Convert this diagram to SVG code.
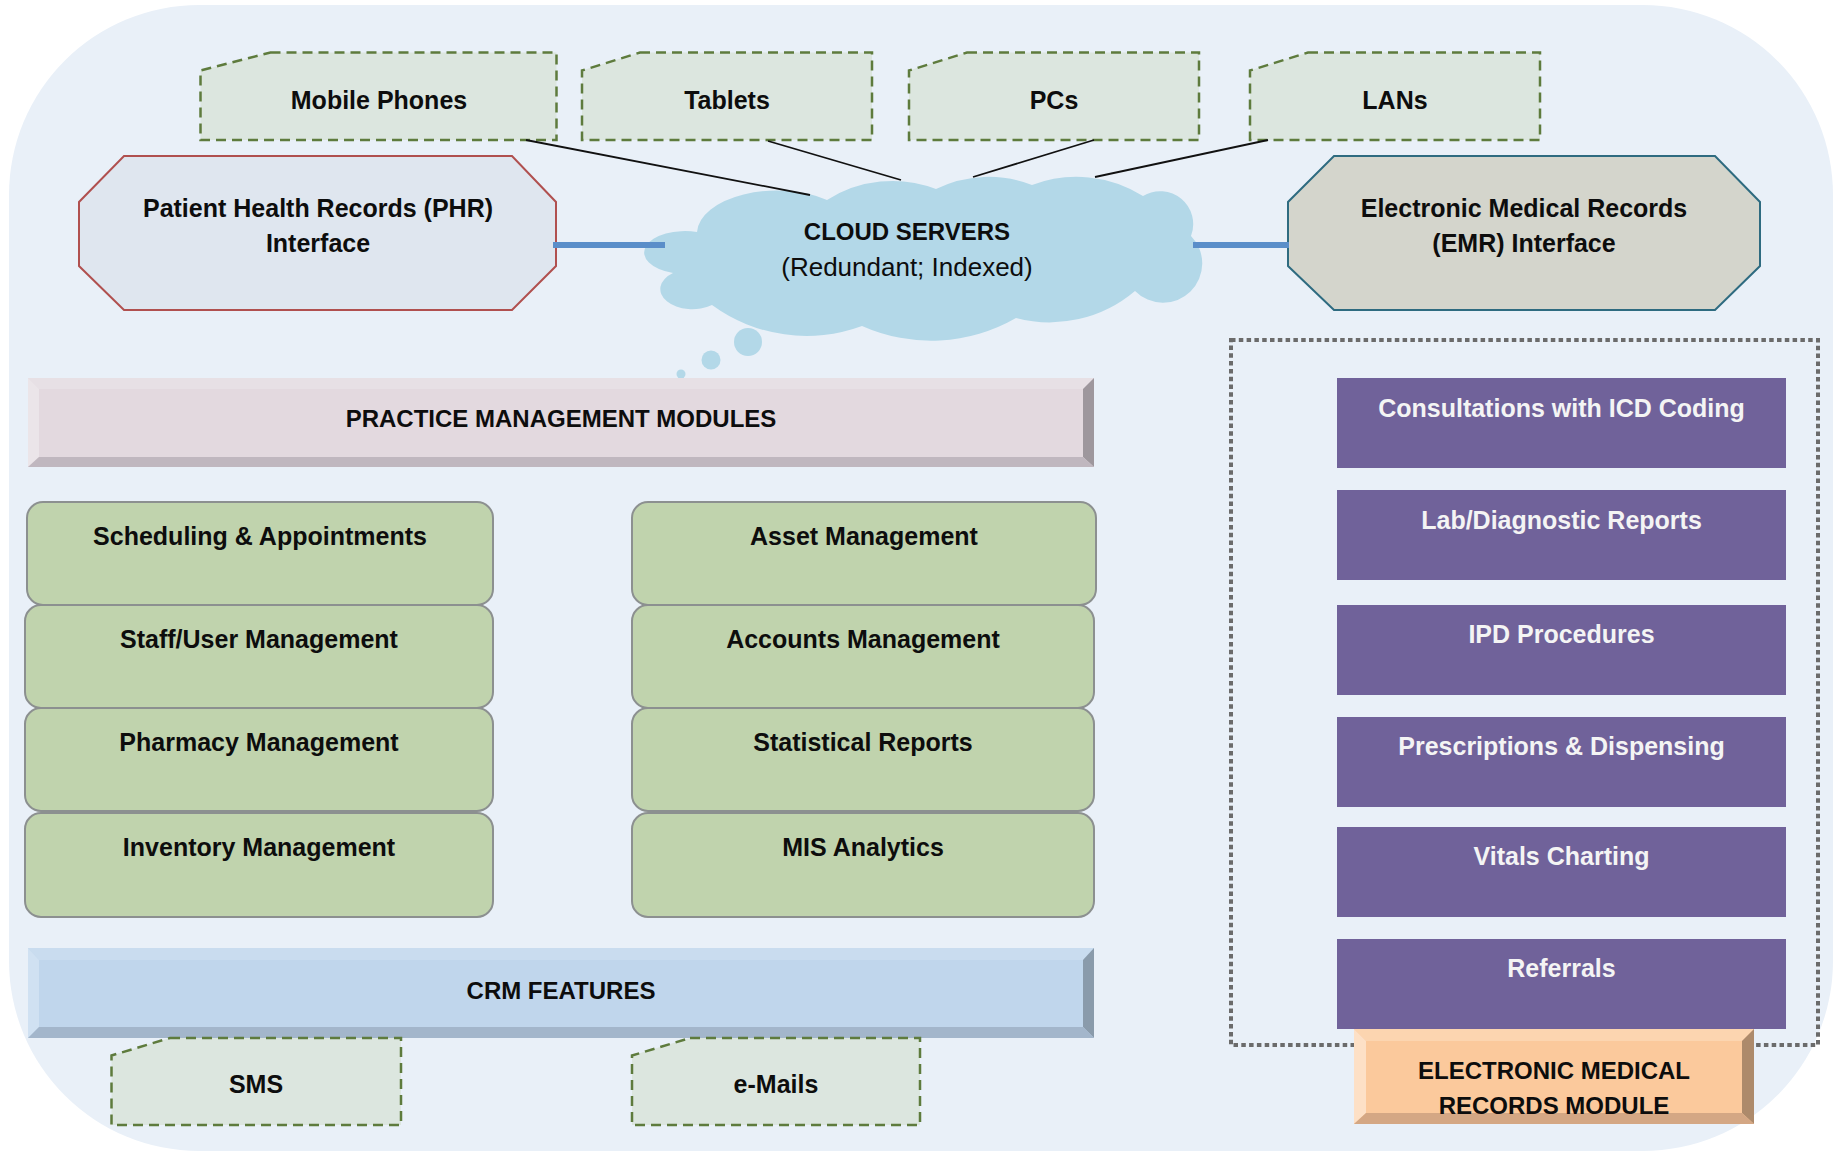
<svg xmlns="http://www.w3.org/2000/svg" width="1839" height="1153" viewBox="0 0 1839 1153">
<style>
text{font-family:"Liberation Sans",Arial,sans-serif;fill:#0d0d0d;text-anchor:middle}
.b25{font-size:25px;font-weight:bold}
.b24{font-size:24px;font-weight:bold}
.r26{font-size:26px}
.w{fill:#f4f4f4}
.dev{fill:#dce6df;stroke:#5e7b3d;stroke-width:2.5;stroke-dasharray:10 6}
.grn{fill:#c0d3ad;stroke:#8c9090;stroke-width:2}
.pur{fill:#70629a}
.thin{stroke:#111;stroke-width:1.8;fill:none}
.thick{stroke:#5a8ec9;stroke-width:6;fill:none}
.cloud{fill:#b3d8e8}
</style>
<rect x="0" y="0" width="1839" height="1153" fill="#ffffff"/>
<rect x="9" y="5" width="1824" height="1146" rx="190" ry="190" fill="#e9f0f8"/>

<g id="cloud-servers">
<path class="cloud" d="M697,232 A80,43 0 0 1 827,200 A122,122 0 0 1 936,189 A120,120 0 0 1 1032,185 A125,125 0 0 1 1143,196 A33,33 0 0 1 1191,236 A36,36 0 0 1 1135,291 A132,132 0 0 1 1016,318 A170,170 0 0 1 862,326 A160,160 0 0 1 712,305 A32,20 0 1 1 673,273 A40,21 0 0 1 697,232 Z"/>
<circle class="cloud" cx="748" cy="342" r="14"/>
<circle class="cloud" cx="711" cy="360" r="9.5"/>
<circle class="cloud" cx="681" cy="374" r="4.5"/>
<text class="b24" x="907" y="240">CLOUD SERVERS</text>
<text class="r26" x="907" y="276">(Redundant; Indexed)</text>
</g>

<g id="mobile-phones"><path class="dev" d="M270.5,52.5 L556.5,52.5 L556.5,140 L200.5,140 L200.5,70.5 Z"/><text class="b25" x="379" y="108.5">Mobile Phones</text></g>
<g id="tablets"><path class="dev" d="M640,52.5 L872,52.5 L872,140 L582,140 L582,70.5 Z"/><text class="b25" x="727" y="108.5">Tablets</text></g>
<g id="pcs"><path class="dev" d="M967,52.5 L1199,52.5 L1199,140 L909,140 L909,70.5 Z"/><text class="b25" x="1054" y="108.5">PCs</text></g>
<g id="lans"><path class="dev" d="M1308,52.5 L1540,52.5 L1540,140 L1250,140 L1250,70.5 Z"/><text class="b25" x="1395" y="108.5">LANs</text></g>

<g id="phr-interface">
<polygon points="124,156 512,156 556,202 556,266 512,310 124,310 79,266 79,202" fill="#dfe6ef" stroke="#b0504f" stroke-width="2"/>
<text class="b25" x="318" y="217">Patient Health Records (PHR)</text>
<text class="b25" x="318" y="252">Interface</text>
</g>
<g id="emr-interface">
<polygon points="1334,156 1715,156 1760,202 1760,266 1715,310 1334,310 1288,266 1288,202" fill="#d4d5cc" stroke="#2e6b80" stroke-width="2"/>
<text class="b25" x="1524" y="217">Electronic Medical Records</text>
<text class="b25" x="1524" y="252">(EMR) Interface</text>
</g>

<g id="practice-management-modules">
<rect x="28" y="378" width="1066" height="89" fill="#e3d9df"/>
<polygon points="28,378 1094,378 1083,389 39,389" fill="#e7e0e5"/>
<polygon points="28,378 39,389 39,457 28,467" fill="#ebe5e9"/>
<polygon points="1094,378 1094,467 1083,457 1083,389" fill="#9e979d"/>
<polygon points="28,467 1094,467 1083,457 39,457" fill="#c0b7bf"/>
<text class="b24" x="561" y="427">PRACTICE MANAGEMENT MODULES</text>
</g>

<g id="scheduling"><rect class="grn" x="27" y="502" width="466" height="103" rx="16"/><text class="b25" x="260" y="545">Scheduling &amp; Appointments</text></g>
<g id="staff-user"><rect class="grn" x="25" y="605" width="468" height="103" rx="16"/><text class="b25" x="259" y="648">Staff/User Management</text></g>
<g id="pharmacy"><rect class="grn" x="25" y="708" width="468" height="103" rx="16"/><text class="b25" x="259" y="751">Pharmacy Management</text></g>
<g id="inventory"><rect class="grn" x="25" y="813" width="468" height="104" rx="16"/><text class="b25" x="259" y="856">Inventory Management</text></g>

<g id="asset"><rect class="grn" x="632" y="502" width="464" height="103" rx="16"/><text class="b25" x="864" y="545">Asset Management</text></g>
<g id="accounts"><rect class="grn" x="632" y="605" width="462" height="103" rx="16"/><text class="b25" x="863" y="648">Accounts Management</text></g>
<g id="statistical"><rect class="grn" x="632" y="708" width="462" height="103" rx="16"/><text class="b25" x="863" y="751">Statistical Reports</text></g>
<g id="mis"><rect class="grn" x="632" y="813" width="462" height="104" rx="16"/><text class="b25" x="863" y="856">MIS Analytics</text></g>

<g id="crm-features">
<rect x="28" y="948" width="1066" height="90" fill="#c0d6ec"/>
<polygon points="28,948 1094,948 1083,960 39,960" fill="#c9dcef"/>
<polygon points="28,948 39,960 39,1027 28,1038" fill="#d0e1f2"/>
<polygon points="1094,948 1094,1038 1083,1027 1083,960" fill="#8a9bab"/>
<polygon points="28,1038 1094,1038 1083,1027 39,1027" fill="#a3b6cb"/>
<text class="b24" x="561" y="999">CRM FEATURES</text>
</g>

<g id="sms"><path class="dev" d="M170,1038 L401,1038 L401,1125 L111.5,1125 L111.5,1055.5 Z"/><text class="b25" x="256" y="1093">SMS</text></g>
<g id="emails"><path class="dev" d="M690,1038 L920,1038 L920,1125 L632,1125 L632,1055.5 Z"/><text class="b25" x="776" y="1093">e-Mails</text></g>

<g id="emr-module-container">
<rect x="1231" y="340" width="587" height="705" fill="none" stroke="#6b6b6b" stroke-width="4" stroke-dasharray="4.5 3.3"/>
</g>

<g id="consultations"><rect class="pur" x="1337" y="378" width="449" height="90"/><text class="b25 w" x="1561.5" y="417">Consultations with ICD Coding</text></g>
<g id="lab-reports"><rect class="pur" x="1337" y="490" width="449" height="90"/><text class="b25 w" x="1561.5" y="529">Lab/Diagnostic Reports</text></g>
<g id="ipd"><rect class="pur" x="1337" y="605" width="449" height="90"/><text class="b25 w" x="1561.5" y="643">IPD Procedures</text></g>
<g id="prescriptions"><rect class="pur" x="1337" y="717" width="449" height="90"/><text class="b25 w" x="1561.5" y="755">Prescriptions &amp; Dispensing</text></g>
<g id="vitals"><rect class="pur" x="1337" y="827" width="449" height="90"/><text class="b25 w" x="1561.5" y="865">Vitals Charting</text></g>
<g id="referrals"><rect class="pur" x="1337" y="939" width="449" height="90"/><text class="b25 w" x="1561.5" y="977">Referrals</text></g>

<g id="emr-module">
<rect x="1354" y="1029" width="400" height="95" fill="#fbc99c"/>
<polygon points="1354,1029 1754,1029 1742,1041 1366,1041" fill="#fcd5b0"/>
<polygon points="1354,1029 1366,1041 1366,1113 1354,1124" fill="#fde0c6"/>
<polygon points="1754,1029 1754,1124 1742,1113 1742,1041" fill="#ad8a6b"/>
<polygon points="1354,1124 1754,1124 1742,1113 1366,1113" fill="#d4a784"/>
<text class="b24" x="1554" y="1079">ELECTRONIC MEDICAL</text>
<text class="b24" x="1554" y="1114">RECORDS MODULE</text>
</g>

<g id="connectors">
<line class="thin" x1="526" y1="140" x2="810" y2="195"/>
<line class="thin" x1="768" y1="141" x2="901" y2="180"/>
<line class="thin" x1="1094" y1="140" x2="973" y2="177"/>
<line class="thin" x1="1268" y1="140" x2="1095" y2="177"/>
<line class="thick" x1="553" y1="245" x2="665" y2="245"/>
<line class="thick" x1="1193" y1="245" x2="1289" y2="245"/>
</g>
</svg>
